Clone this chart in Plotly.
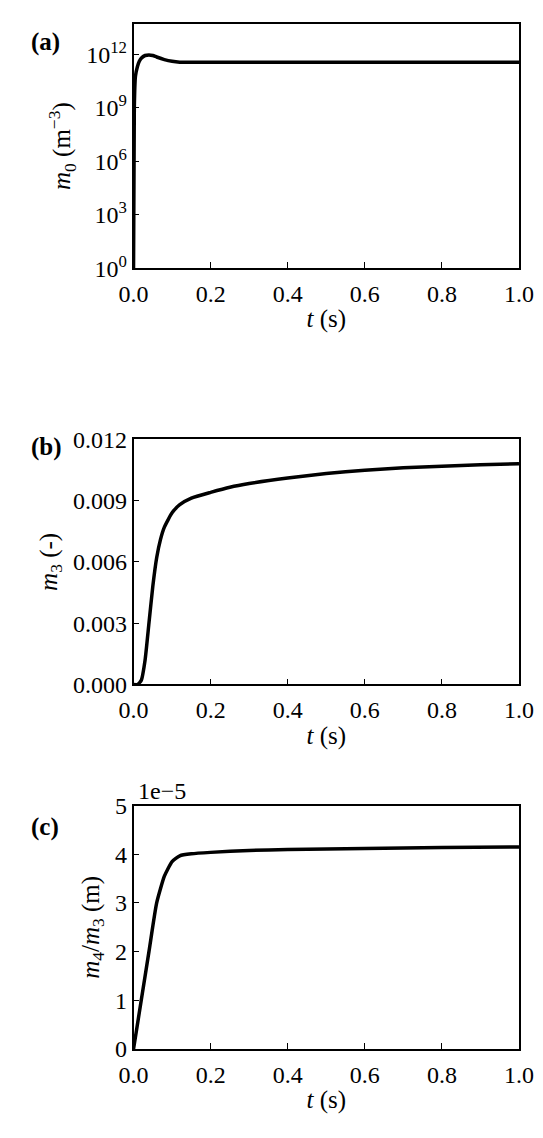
import plotly.graph_objects as go

# (a) m0 number density
t_a = [0.0, 0.002, 0.005, 0.01, 0.015, 0.02, 0.03, 0.04, 0.05, 0.06, 0.08, 0.1, 0.12, 0.2, 0.4, 0.6, 0.8, 1.0]
m0 = [1e0, 1e9, 6e10, 2e11, 4e11, 6e11, 8.5e11, 9.2e11, 8.5e11, 7e11, 5e11, 4e11, 3.6e11, 3.6e11, 3.6e11, 3.6e11, 3.6e11, 3.6e11]

# (b) m3
t_b = [0.0, 0.01, 0.02, 0.03, 0.04, 0.05, 0.06, 0.07, 0.08, 0.1, 0.12, 0.15, 0.2, 0.25, 0.3, 0.4, 0.5, 0.6, 0.7, 0.8, 0.9, 1.0]
m3 = [0.0, 0.0, 0.0002, 0.0012, 0.003, 0.0048, 0.0062, 0.0071, 0.0077, 0.0084, 0.0088, 0.00912, 0.0094, 0.00965, 0.00983, 0.0101, 0.01032, 0.01048, 0.0106, 0.01068, 0.01075, 0.0108]

# (c) m4/m3
t_c = [0.0, 0.02, 0.04, 0.06, 0.08, 0.1, 0.12, 0.15, 0.2, 0.3, 0.4, 0.6, 0.8, 1.0]
m4m3 = [0.0, 1.0e-5, 2.0e-5, 3.0e-5, 3.55e-5, 3.85e-5, 3.97e-5, 4.01e-5, 4.04e-5, 4.08e-5, 4.1e-5, 4.12e-5, 4.14e-5, 4.15e-5]

W, H = 543, 1138
FAM = "Liberation Serif"
font = dict(family=FAM, size=24, color="black")
tfont = dict(family=FAM, size=25, color="black")

fig = go.Figure()
line = dict(color="black", width=3.5, shape="spline", smoothing=0.5)
fig.add_trace(go.Scatter(x=t_a, y=m0, mode="lines", line=line, xaxis="x", yaxis="y"))
fig.add_trace(go.Scatter(x=t_b, y=m3, mode="lines", line=line, xaxis="x2", yaxis="y2"))
fig.add_trace(go.Scatter(x=t_c, y=m4m3, mode="lines", line=line, xaxis="x3", yaxis="y3"))

xd = [117 / W, 525 / W]
doms = [(3, 253), (428, 679), (803, 1052)]

def yd(top, bot):
    return [1 - bot / H, 1 - top / H]

axcommon = dict(showline=True, mirror=True, linecolor="black", linewidth=1.5,
                ticks="inside", ticklen=6, tickcolor="black", showgrid=False,
                zeroline=False, tickfont=font)

layout = dict(width=W, height=H, margin=dict(l=0, r=0, t=0, b=0),
              plot_bgcolor="white", paper_bgcolor="white", showlegend=False, font=font)
xt = dict(range=[0, 1], tickvals=[0, 0.2, 0.4, 0.6, 0.8, 1.0],
          ticktext=["0.0", "0.2", "0.4", "0.6", "0.8", "1.0"], ticklabelstandoff=3,
          title=dict(text="<i>t</i> (s)", font=tfont, standoff=4))
for i, (top, bot) in enumerate(doms):
    sx = "" if i == 0 else str(i + 1)
    layout["xaxis" + sx] = dict(domain=xd, anchor="y" + sx, **xt, **axcommon)

layout["yaxis"] = dict(domain=yd(*doms[0]), anchor="x", type="log", range=[0, 13.7],
                       tickvals=[1, 1e3, 1e6, 1e9, 1e12],
                       ticktext=["10<sup>0</sup>", "10<sup>3</sup>", "10<sup>6</sup>", "10<sup>9</sup>", "10<sup>12</sup>"],
                       title=dict(text="<i>m</i><sub>0</sub> (m<sup>−3</sup>)", font=tfont, standoff=8),
                       **axcommon)
layout["yaxis2"] = dict(domain=yd(*doms[1]), anchor="x2", range=[0, 0.012],
                        tickvals=[0, 0.003, 0.006, 0.009, 0.012],
                        ticktext=["0.000", "0.003", "0.006", "0.009", "0.012"],
                        title=dict(text="<i>m</i><sub>3</sub> (-)", font=tfont, standoff=8),
                        **axcommon)
layout["yaxis3"] = dict(domain=yd(*doms[2]), anchor="x3", range=[0, 5e-5],
                        tickvals=[0, 1e-5, 2e-5, 3e-5, 4e-5, 5e-5],
                        ticktext=["0", "1", "2", "3", "4", "5"],
                        title=dict(text="<i>m</i><sub>4</sub>/<i>m</i><sub>3</sub> (m)", font=tfont, standoff=8),
                        **axcommon)

fig.update_layout(**layout)

for lab, top in zip(["(a)", "(b)", "(c)"], [doms[0][0] + 18, doms[1][0] + 8, doms[2][0] + 22]):
    fig.add_annotation(text="<b>" + lab + "</b>", x=6 / W, y=1 - top / H, xref="paper", yref="paper",
                       xanchor="left", yanchor="middle", showarrow=False, font=tfont)
fig.add_annotation(text="1e−5", x=xd[0] + 0.005, y=1 - doms[2][0] / H, xref="paper", yref="paper",
                   xanchor="left", yanchor="bottom", showarrow=False, font=font)

fig.write_html("out.html")
